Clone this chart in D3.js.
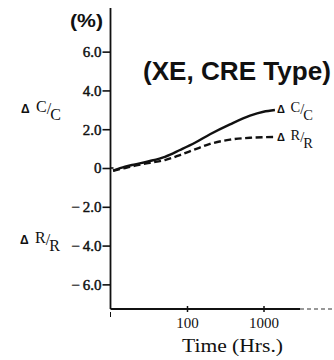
<!DOCTYPE html>
<html>
<head>
<meta charset="utf-8">
<script src="https://cdn.jsdelivr.net/npm/d3@7"></script>
<style>
  html, body { margin: 0; padding: 0; background: #fff; }
  svg { display: block; }
</style>
</head>
<body>
<svg id="chart" width="334" height="360"></svg>
<script>
// Capacitance and resistance drift vs. time (XE, CRE type)
const hours       = [10.8, 15.5, 21, 32.8, 51.5, 81, 127, 200, 365, 667, 1000, 1410];
const deltaC      = [-0.14, 0.07, 0.19, 0.36, 0.58, 0.93, 1.30, 1.74, 2.25, 2.70, 2.90, 2.99];
const deltaR      = [-0.14, 0.00, 0.12, 0.27, 0.41, 0.67, 0.96, 1.24, 1.46, 1.56, 1.59, 1.60];
const yTicks      = [6, 4, 2, 0, -2, -4, -6];
const xTicks      = [100, 1000];
const xTickLabels = ["100", "1000"];

const svg = d3.select("#chart");
const ink = "#111";
const serif = "'Liberation Serif', 'Times New Roman', serif";
const sans = "'Liberation Sans', Arial, sans-serif";

const x = d3.scaleLog().domain([10, 10000]).range([110.5, 340]);
const y = d3.scaleLinear().domain([-7.27, 8.25]).range([309, 8]);

// Y axis
const yAxis = d3.axisLeft(y)
  .tickValues(yTicks)
  .tickSize(8)
  .tickPadding(1)
  .tickFormat(d => d === 0 ? "0" : (d < 0 ? "\u2212\u2009" + Math.abs(d).toFixed(1) : d.toFixed(1)));

const gy = svg.append("g").attr("transform", `translate(${x(10)},0)`).call(yAxis);
gy.select(".domain").remove();
gy.selectAll(".tick line").attr("stroke", ink).attr("stroke-width", 1.6);
gy.selectAll(".tick text")
  .attr("fill", ink)
  .attr("stroke", ink)
  .attr("stroke-width", 0.45)
  .style("font-family", serif)
  .style("font-size", "15px");
svg.append("line")
  .attr("x1", x(10)).attr("x2", x(10))
  .attr("y1", y.range()[1]).attr("y2", y.range()[0])
  .attr("stroke", ink).attr("stroke-width", 1.8);
// short crossing stub at zero
svg.append("line")
  .attr("x1", x(10)).attr("x2", x(10) + 3)
  .attr("y1", y(0)).attr("y2", y(0))
  .attr("stroke", ink).attr("stroke-width", 1.6);

// X axis
const xAxis = d3.axisBottom(x)
  .tickValues(xTicks)
  .tickSize(3)
  .tickPadding(5)
  .tickFormat((d, i) => xTickLabels[i]);
const gx = svg.append("g").attr("transform", `translate(0,${y(-7.27)})`).call(xAxis);
gx.select(".domain").remove();
gx.selectAll(".tick line").attr("stroke", ink).attr("stroke-width", 1.5).attr("y1", -3);
gx.selectAll(".tick text")
  .attr("fill", ink)
  .style("font-family", serif)
  .style("font-size", "15px");
svg.append("line")
  .attr("x1", x(10)).attr("x2", x(3000))
  .attr("y1", y(-7.27)).attr("y2", y(-7.27))
  .attr("stroke", ink).attr("stroke-width", 1.8);
svg.append("line")
  .attr("x1", x(3000)).attr("x2", 334)
  .attr("y1", y(-7.27)).attr("y2", y(-7.27))
  .attr("stroke", "#333").attr("stroke-width", 1.2)
  .attr("stroke-dasharray", "4,3");
// small mark at the origin decade
svg.append("line")
  .attr("x1", x(10)).attr("x2", x(10))
  .attr("y1", y(-7.27) + 3).attr("y2", y(-7.27) + 8)
  .attr("stroke", ink).attr("stroke-width", 1);

// Curves
const line = d3.line()
  .x((d, i) => x(hours[i]))
  .y(d => y(d))
  .curve(d3.curveMonotoneX);

svg.append("path")
  .attr("d", line(deltaC))
  .attr("fill", "none").attr("stroke", ink).attr("stroke-width", 2.4);
svg.append("path")
  .attr("d", line(deltaR))
  .attr("fill", "none").attr("stroke", ink).attr("stroke-width", 2.4)
  .attr("stroke-dasharray", "7,3.5");

// Ratio labels: Δ followed by a raised letter, slash and lowered letter
function ratioLabel(px, py, letter, size, deltaSize) {
  const t = svg.append("text")
    .attr("x", px).attr("y", py)
    .attr("fill", ink);
  t.append("tspan")
    .style("font-family", sans).style("font-weight", "bold")
    .style("font-size", deltaSize + "px")
    .text("\u0394");
  t.append("tspan")
    .style("font-family", serif).style("font-size", size + "px")
    .attr("dx", size * 0.4).attr("dy", -1)
    .text(letter);
  t.append("tspan")
    .style("font-family", serif).style("font-size", size + "px")
    .attr("dy", 2)
    .text("/");
  t.append("tspan")
    .style("font-family", serif).style("font-size", size + "px")
    .attr("dx", -1).attr("dy", size * 0.4)
    .text(letter);
}
ratioLabel(21, 113, "C", 16, 12);
ratioLabel(20, 244, "R", 16, 12);
const last = hours.length - 1;
ratioLabel(x(hours[last]) + 2, y(deltaC[last]) + 3, "C", 14.5, 11);
ratioLabel(x(hours[last]) + 2, y(deltaR[last]) + 4, "R", 14.5, 11);

// Unit and title
svg.append("text")
  .attr("x", 70).attr("y", 27)
  .style("font-family", sans).style("font-weight", "bold").style("font-size", "18px")
  .attr("textLength", 33).attr("lengthAdjust", "spacingAndGlyphs")
  .attr("fill", ink)
  .text("(%)");
svg.append("text")
  .attr("x", 143).attr("y", 80)
  .style("font-family", sans).style("font-weight", "bold").style("font-size", "25px")
  .attr("textLength", 188).attr("lengthAdjust", "spacingAndGlyphs")
  .attr("fill", ink)
  .text("(XE, CRE Type)");
svg.append("text")
  .attr("x", 182).attr("y", 352)
  .style("font-family", serif).style("font-size", "19px")
  .attr("textLength", 101).attr("lengthAdjust", "spacingAndGlyphs")
  .attr("fill", ink)
  .text("Time (Hrs.)");
</script>
</body>
</html>
